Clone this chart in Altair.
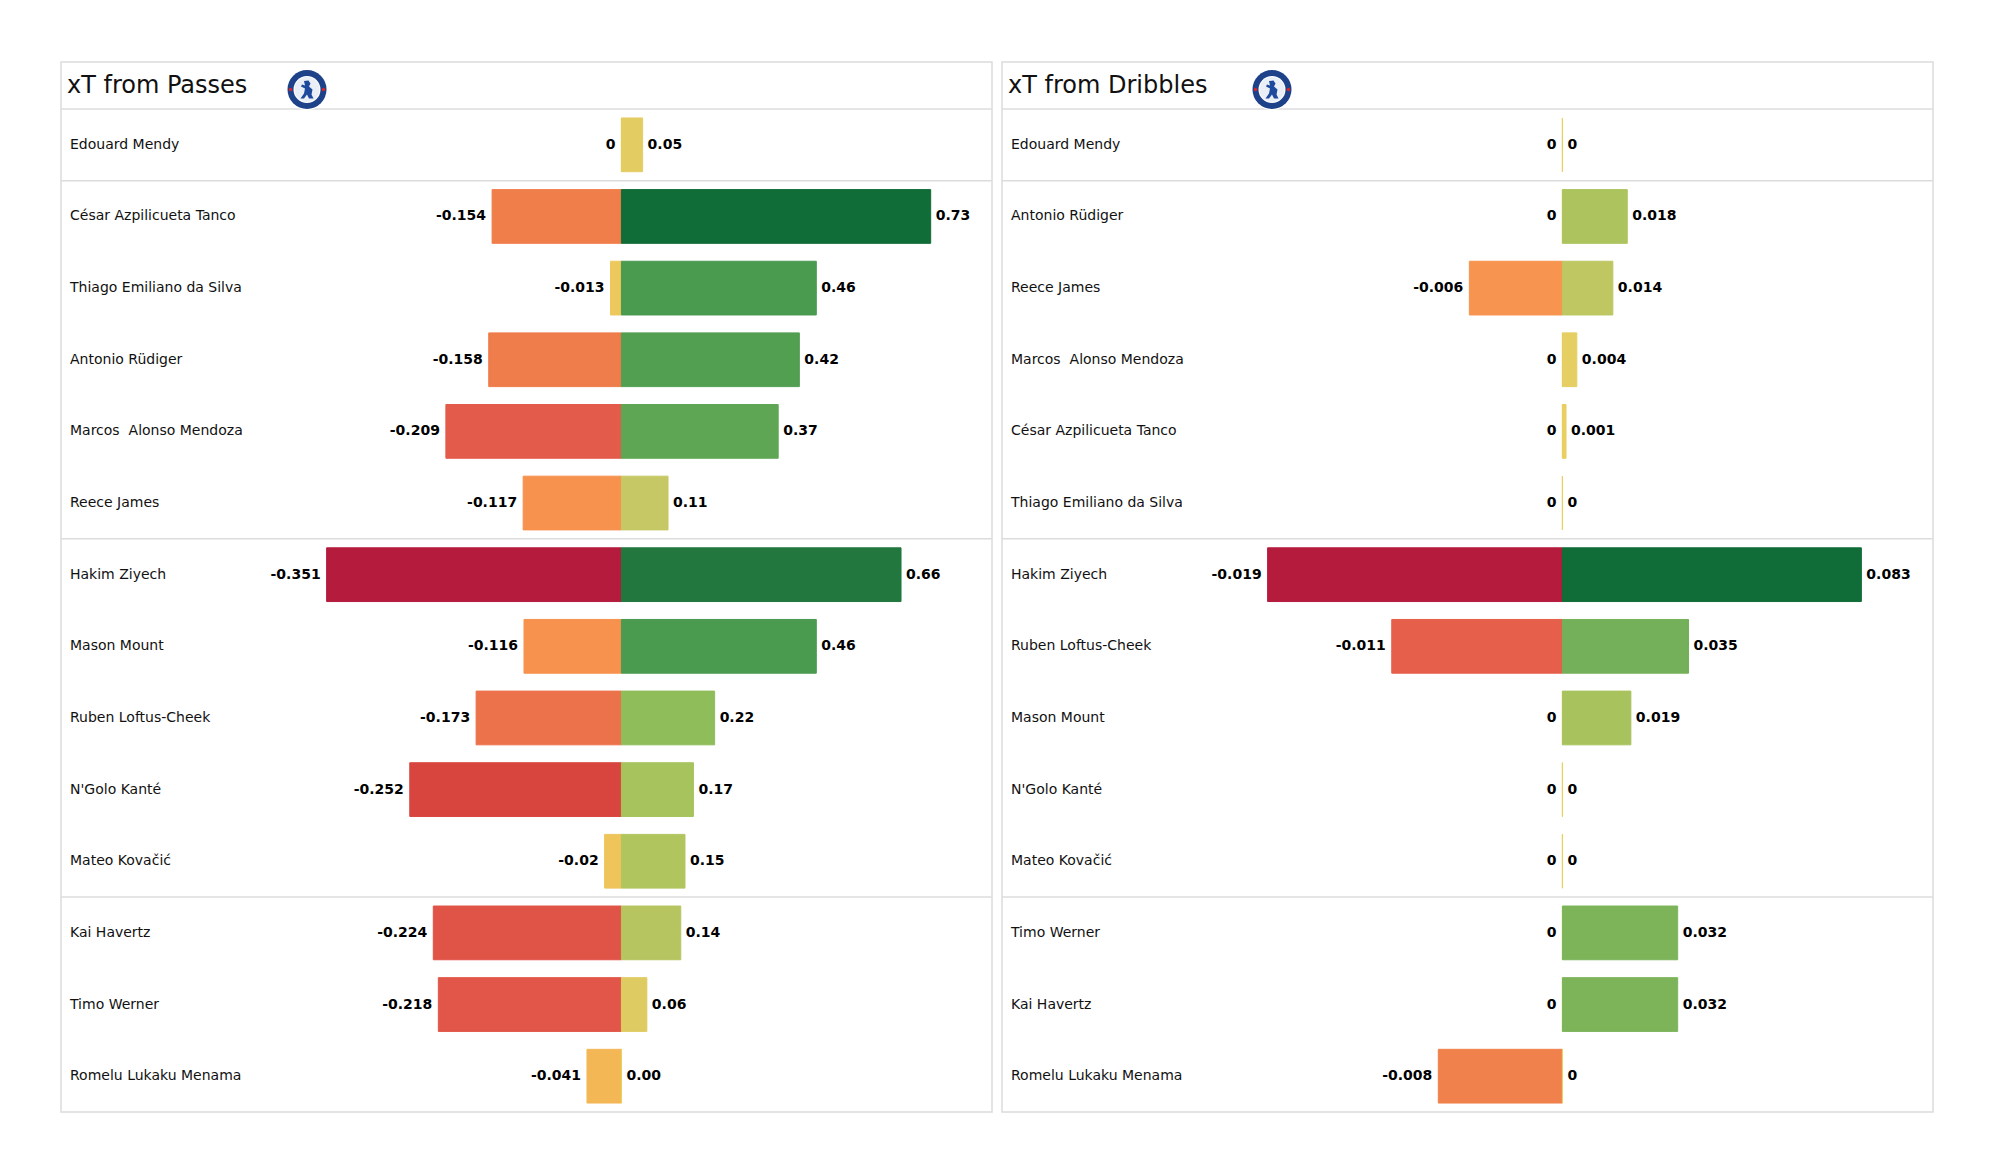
import altair as alt
import pandas as pd

# ---------------- data ----------------
passes_names = [
    "Edouard Mendy", "César Azpilicueta Tanco", "Thiago Emiliano da Silva",
    "Antonio Rüdiger", "Marcos  Alonso Mendoza", "Reece James", "Hakim Ziyech",
    "Mason Mount", "Ruben Loftus-Cheek", "N'Golo Kanté", "Mateo Kovačić",
    "Kai Havertz", "Timo Werner", "Romelu Lukaku Menama",
]
passes_neg = [0, -0.154, -0.013, -0.158, -0.209, -0.117, -0.351,
              -0.116, -0.173, -0.252, -0.02, -0.224, -0.218, -0.041]
passes_pos = [0.05, 0.73, 0.46, 0.42, 0.37, 0.11, 0.66,
              0.46, 0.22, 0.17, 0.15, 0.14, 0.06, 0.00]

dribbles_names = [
    "Edouard Mendy", "Antonio Rüdiger", "Reece James", "Marcos  Alonso Mendoza",
    "César Azpilicueta Tanco", "Thiago Emiliano da Silva", "Hakim Ziyech",
    "Ruben Loftus-Cheek", "Mason Mount", "N'Golo Kanté", "Mateo Kovačić",
    "Timo Werner", "Kai Havertz", "Romelu Lukaku Menama",
]
dribbles_neg = [0, 0, -0.006, 0, 0, 0, -0.019, -0.011, 0, 0, 0, 0, 0, -0.008]
dribbles_pos = [0, 0.018, 0.014, 0.004, 0.001, 0, 0.083, 0.035, 0.019, 0, 0, 0.032, 0.032, 0]

group_breaks = [1, 6, 11]

color_stops = [-1, -0.72, -0.6, -0.45, -0.33, -0.12, 0,
               0.07, 0.15, 0.23, 0.30, 0.40, 0.51, 0.63, 0.90, 1.0]
color_range = ["#b41b3d", "#d8453f", "#e35a4a", "#ef7c4b", "#f7924e", "#f4b656", "#e9d060",
               "#e3cd63", "#c5c864", "#a8c35d", "#8fbd5a", "#7ab35a", "#5ea654", "#4a9a50",
               "#23773f", "#116d38"]

# crest rings: (diameter px, colour)
crest_rings = [(41, "#ffffff"), (39, "#1d4289"), (27, "#ffffff"), (25, "#e9eef7")]
LION_PATH = ("M -0.3 -0.85 L 0.15 -0.9 L 0.35 -0.6 L 0.2 -0.3 L 0.55 0.0 L 0.45 0.5 "
             "L 0.65 0.9 L 0.2 0.9 L 0.0 0.5 L -0.3 0.9 L -0.65 0.9 L -0.3 0.4 "
             "L -0.2 -0.1 L -0.6 -0.3 L -0.5 -0.5 L -0.2 -0.4 Z")

# ---------------- layout ----------------
W = 931
H = 1050
ROWS = 14
HEADER_ROWS = 47 / (1003 / 14)
FONT = "DejaVu Sans"
GRID = "#dcdcdc"


def fmt_plain(v):
    return "0" if v == 0 else f"{v:g}"


def fmt_two(v):
    return f"{v:.2f}"


cscale = alt.Scale(domain=color_stops, range=color_range, interpolate="rgb")


def panel(title, names, neg, pos, pos_fmt, pos_stretch, logo_x):
    df = pd.DataFrame({
        "name": [n.replace("  ", " \u00a0") for n in names],
        "neg": neg,
        "pos": pos,
        "row": list(range(len(names))),
        "neg_label": [fmt_plain(v) for v in neg],
        "pos_label": [pos_fmt(v) for v in pos],
    })
    base = alt.Chart(df).transform_joinaggregate(
        negmin="min(neg)", posmax="max(pos)"
    ).transform_calculate(
        xn="datum.negmin < 0 ? datum.neg / (-datum.negmin) : 0",
        xp="datum.posmax > 0 ? datum.pos / datum.posmax : 0",
        xs=f"datum.posmax > 0 ? {pos_stretch} * datum.pos / datum.posmax : 0",
        zero="0",
        top="datum.row + 0.125",
        bot="datum.row + 0.875",
        mid="datum.row + 0.5",
    )
    xscale = alt.Scale(domain=[-1.901, 1.257], nice=False, zero=False)
    yscale = alt.Scale(domain=[-HEADER_ROWS, ROWS], reverse=True, nice=False, zero=False)

    rules = alt.Chart(pd.DataFrame({"b": [0] + group_breaks})).mark_rule(
        color=GRID, strokeWidth=1.5
    ).encode(
        y=alt.Y("b:Q", scale=yscale, axis=None),
        x=alt.value(0), x2=alt.value(W),
    )

    neg_bars = base.mark_bar(strokeWidth=1).encode(
        x=alt.X("xn:Q", scale=xscale, axis=None),
        x2="zero:Q",
        y=alt.Y("top:Q", scale=yscale, axis=None),
        y2="bot:Q",
        color=alt.Color("xn:Q", scale=cscale, legend=None),
        stroke=alt.Stroke("xn:Q", scale=cscale, legend=None),
    )
    pos_bars = base.mark_bar(strokeWidth=1).encode(
        x=alt.X("xs:Q", scale=xscale, axis=None),
        x2="zero:Q",
        y=alt.Y("top:Q", scale=yscale, axis=None),
        y2="bot:Q",
        color=alt.Color("xp:Q", scale=cscale, legend=None),
        stroke=alt.Stroke("xp:Q", scale=cscale, legend=None),
    )
    neg_text = base.mark_text(
        align="right", baseline="middle", dx=-6, font=FONT, fontSize=14,
        fontWeight="bold", color="#000000"
    ).encode(
        x=alt.X("xn:Q", scale=xscale, axis=None),
        y=alt.Y("mid:Q", scale=yscale, axis=None),
        text="neg_label:N",
    )
    pos_text = base.mark_text(
        align="left", baseline="middle", dx=5, font=FONT, fontSize=14,
        fontWeight="bold", color="#000000"
    ).encode(
        x=alt.X("xs:Q", scale=xscale, axis=None),
        y=alt.Y("mid:Q", scale=yscale, axis=None),
        text="pos_label:N",
    )
    name_text = base.mark_text(
        align="left", baseline="middle", font=FONT, fontSize=14, color="#111111"
    ).encode(
        x=alt.value(9),
        y=alt.Y("mid:Q", scale=yscale, axis=None),
        text="name:N",
    )

    hdr_df = pd.DataFrame({"t": [title]})
    title_mark = alt.Chart(hdr_df).mark_text(
        align="left", baseline="alphabetic", font=FONT, fontSize=24, color="#111111"
    ).encode(x=alt.value(6), y=alt.value(31), text="t:N")

    logo_y = 27.5
    rings = [
        alt.Chart(hdr_df).mark_point(
            filled=True, shape="circle", opacity=1, strokeWidth=0, size=d * d, color=c
        ).encode(x=alt.value(logo_x), y=alt.value(logo_y))
        for d, c in crest_rings
    ]
    lion = alt.Chart(hdr_df).mark_point(
        filled=True, shape=LION_PATH, opacity=1, strokeWidth=0, size=400, color="#1d4a9c"
    ).encode(x=alt.value(logo_x), y=alt.value(logo_y))
    roses = [
        alt.Chart(hdr_df).mark_point(
            filled=True, shape="circle", opacity=1, strokeWidth=0, size=12, color="#d8232a"
        ).encode(x=alt.value(logo_x + dx), y=alt.value(logo_y))
        for dx in (-16.5, 16.5)
    ]

    return alt.layer(
        rules, neg_bars, pos_bars, neg_text, pos_text, name_text, title_mark,
        *rings, lion, *roses
    ).properties(width=W, height=H)


left = panel("xT from Passes", passes_names, passes_neg, passes_pos, fmt_two, 1.049, 246)
right = panel("xT from Dribbles", dribbles_names, dribbles_neg, dribbles_pos, fmt_plain, 1.014, 270)

chart = alt.hconcat(left, right, spacing=6).resolve_scale(
    x="independent", y="independent"
).properties(
    padding={"left": 51, "top": 53, "right": 5, "bottom": 5},
    background="white",
).configure_view(stroke=GRID, strokeWidth=1.5)

chart.save("out.html", embed_options={"renderer": "svg", "actions": False})
